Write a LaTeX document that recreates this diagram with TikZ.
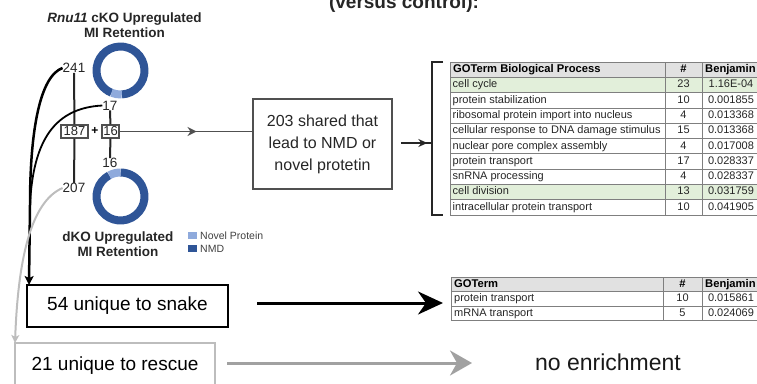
\documentclass[tikz,border=0pt]{standalone}
\usepackage{fontspec}
\setmainfont{Liberation Sans}
\usetikzlibrary{arrows.meta,decorations.markings}
\definecolor{nmd}{HTML}{2F5597}
\definecolor{novel}{HTML}{8FAADC}
\definecolor{hdr}{HTML}{E1E1E1}
\definecolor{grn}{HTML}{E2EFDA}
\definecolor{tline}{HTML}{7F7F7F}
\definecolor{ttext}{HTML}{262626}
\definecolor{resc}{HTML}{BDBDBD}
\definecolor{darkln}{HTML}{505050}
\begin{document}
\begin{tikzpicture}[x=1pt,y=-1pt,
  lbl/.style={font=\fontsize{13.5}{15}\selectfont\bfseries, inner sep=0pt, align=center, text=black!85},
  num/.style={font=\fontsize{13.5}{15}\selectfont, inner sep=0pt, text=black!85},
  numbox/.style={draw=darkln, line width=1.1pt, minimum height=13pt, inner sep=1pt, font=\fontsize{13}{14}\selectfont, text=black!85},
  bigbox/.style={line width=2.5pt, minimum width=201pt, minimum height=42pt, font=\fontsize{19}{22}\selectfont, inner sep=0pt},
  cell/.style={font=\fontsize{11}{13}\selectfont, text=ttext, inner sep=0pt, text height=8pt, text depth=2.2pt},
  hcell/.style={cell, font=\fontsize{11.2}{13}\selectfont\bfseries, text=black},
  leg/.style={font=\fontsize{10.5}{12}\selectfont, text=black!75, inner sep=0pt, anchor=west},
  ringseg/.style={line width=8pt}
]
\useasboundingbox (0,0) rectangle (757,383);
\clip (0,0) rectangle (757,383);

% title (cut at top, as in the reference)
\node[font=\fontsize{19}{22}\selectfont\bfseries, text=black!85, anchor=base, inner sep=0pt] (title) at (404,8) {(versus control):};

% ring labels
\node[lbl] (toplbl) at (124.5,25) {{\itshape Rnu11} cKO Upregulated\\MI Retention};
\node[lbl] (botlbl) at (118,244) {dKO Upregulated\\MI Retention};

% rings
\coordinate (ring1) at (120.5,70.5);
\coordinate (ring2) at (120.5,196.5);
\draw[ringseg, nmd] (ring1) ++(273:24pt) arc[start angle=273, end angle=608, radius=24pt];
\draw[ringseg, novel] (ring1) ++(248:24pt) arc[start angle=248, end angle=273, radius=24pt];
\draw[ringseg, nmd] (ring2) ++(118:24pt) arc[start angle=118, end angle=450, radius=24pt];
\draw[ringseg, novel] (ring2) ++(90:24pt) arc[start angle=90, end angle=118, radius=24pt];

% legend
\fill[novel] (188,232) rectangle (197,239);
\fill[nmd] (188,245) rectangle (197,252);
\node[leg] (legnov) at (200,235.5) {Novel Protein};
\node[leg] (legnmd) at (200,248.5) {NMD};

% numbers
\node[num] (n241) at (74,68) {241};
\node[num] (n17) at (110,105.5) {17};
\node[numbox, minimum width=27pt] (b187) at (74.5,131.5) {187};
\node[numbox, minimum width=17pt] (b16) at (110.5,131.5) {16};
\node[font=\fontsize{12}{14}\selectfont\bfseries, inner sep=0pt] (plus) at (95,131) {+};
\node[num] (n16) at (110,163) {16};
\node[num] (n207) at (74,188) {207};

\draw[line width=2pt, black!85] (n241) -- (b187);
\draw[line width=2pt, black!85] (b187) -- (n207);
\draw[line width=2pt, black!85] (n17) -- (b16);
\draw[line width=2pt, black!85] (b16) -- (n16);

% shared box
\node[draw=darkln, line width=1.5pt, minimum width=139pt, minimum height=90pt, align=center,
      font=\fontsize{16}{22}\selectfont, text=black!85, inner sep=0pt] (shared) at (322.5,144)
      {203 shared that\\lead to NMD or\\novel protetin};
\draw[darkln, line width=1.5pt,
      decoration={markings, mark=at position 0.58 with {\arrow{Stealth[length=9pt,width=9pt]}}},
      postaction={decorate}] (b16.east) -- (b16.east -| shared.west);

% bracket
\coordinate (brkT) at (443,62);
\coordinate (brkB) at (443,215);
\coordinate (brkin) at (432,143);
\draw[line width=1.4pt, black!85] (brkT) -- (432,62) -- (432,215) -- (brkB);
\draw[line width=1.3pt, black!85,
      decoration={markings, mark=at position 0.85 with {\arrow{Stealth[length=9pt,width=8pt]}}},
      postaction={decorate}] ([xshift=8pt]shared.east |- brkin) -- (brkin);

% table 1
\def\rh{15.3}
\fill[hdr] (450,62) rectangle (760,62+\rh);
\node[hcell, anchor=west] (t1h1) at (453,62+\rh/2) {GOTerm Biological Process};
\node[hcell] (t1h2) at (683.5,62+\rh/2) {\#};
\node[hcell, anchor=west] (t1h3) at (705,62+\rh/2) {Benjamin};
\foreach \a/\b/\c/\f [count=\i] in {
  cell cycle/23/1.16E-04/grn,
  protein stabilization/10/0.001855/white,
  ribosomal protein import into nucleus/4/0.013368/white,
  cellular response to DNA damage stimulus/15/0.013368/white,
  nuclear pore complex assembly/4/0.017008/white,
  protein transport/17/0.028337/white,
  snRNA processing/4/0.028337/white,
  cell division/13/0.031759/grn,
  intracellular protein transport/10/0.041905/white}{
  \pgfmathsetmacro\yt{62+\rh*\i}
  \pgfmathsetmacro\yc{\yt+\rh/2}
  \fill[\f] (450,\yt) rectangle (760,\yt+\rh);
  \node[cell, anchor=west] (t1a\i) at (452.5,\yc) {\a};
  \node[cell] (t1b\i) at (683.5,\yc) {\b};
  \node[cell] (t1c\i) at (731,\yc) {\c};
}
\foreach \k in {1,...,9}{
  \draw[tline, line width=0.7pt] (450,62+\rh*\k) -- (760,62+\rh*\k);
}
\draw[tline, line width=0.7pt] (665,62) -- (665,62+10*\rh) (702,62) -- (702,62+10*\rh);
\draw[tline, line width=1pt] (760,62) -- (450,62) -- (450,62+10*\rh) -- (760,62+10*\rh);

% table 2
\fill[hdr] (451,277) rectangle (760,291.5);
\node[hcell, anchor=west] (t2h1) at (454,284.25) {GOTerm};
\node[hcell] (t2h2) at (682.5,284.25) {\#};
\node[hcell, anchor=west] (t2h3) at (705,284.25) {Benjamin};
\foreach \a/\b/\c [count=\i] in {
  protein transport/10/0.015861,
  mRNA transport/5/0.024069}{
  \pgfmathsetmacro\yc{277+14.5*\i+7.25}
  \node[cell, anchor=west] (t2a\i) at (454,\yc) {\a};
  \node[cell] (t2b\i) at (682.5,\yc) {\b};
  \node[cell] (t2c\i) at (731,\yc) {\c};
}
\draw[tline, line width=0.7pt] (451,291.5) -- (760,291.5) (451,306) -- (760,306);
\draw[tline, line width=0.7pt] (663,277) -- (663,320.5) (702,277) -- (702,320.5);
\draw[tline, line width=1pt] (760,277) -- (451,277) -- (451,320.5) -- (760,320.5);

% bottom boxes
\node[bigbox, draw=black, minimum width=201pt, minimum height=42pt] (snake) at (127.5,306) {54 unique to snake};
\node[bigbox, draw=resc, line width=2pt, minimum width=200pt, minimum height=46pt] (rescue) at (115,366) {\raisebox{2pt}{21 unique to rescue}};
\node[font=\fontsize{23}{26}\selectfont, text=black!90, inner sep=0pt] (noenr) at (608,362) {no enrichment};

\coordinate (snakeout) at (257,303);
\coordinate (t2in) at (443,303);
\draw[line width=3pt, -{Stealth[length=25pt,width=23pt,inset=8pt]}] (snakeout) -- (t2in);
\coordinate (rescout) at (227,363);
\coordinate (noenrin) at (472,363);
\draw[line width=3pt, resc!85!black, -{Stealth[length=22pt,width=25pt,inset=7pt]}] (rescout) -- (noenrin);

% curved connectors
\coordinate (snaketop) at (29,285);
\coordinate (merge) at (30,205);
\coordinate (resctop) at (15,343);
\draw[line width=2.5pt, -{Stealth[length=9pt,width=9pt,inset=2pt]}]
  (n241.west) .. controls (40,76) and (30,130) .. (merge) -- (snaketop);
\draw[line width=1.8pt] (n17.west) .. controls (55,108) and (33,140) .. (merge);
\draw[line width=2pt, resc, -{Stealth[length=8pt,width=8pt,inset=2pt]}]
  (n207.west) .. controls (30,202) and (18,262) .. (resctop);
\end{tikzpicture}
\end{document}
